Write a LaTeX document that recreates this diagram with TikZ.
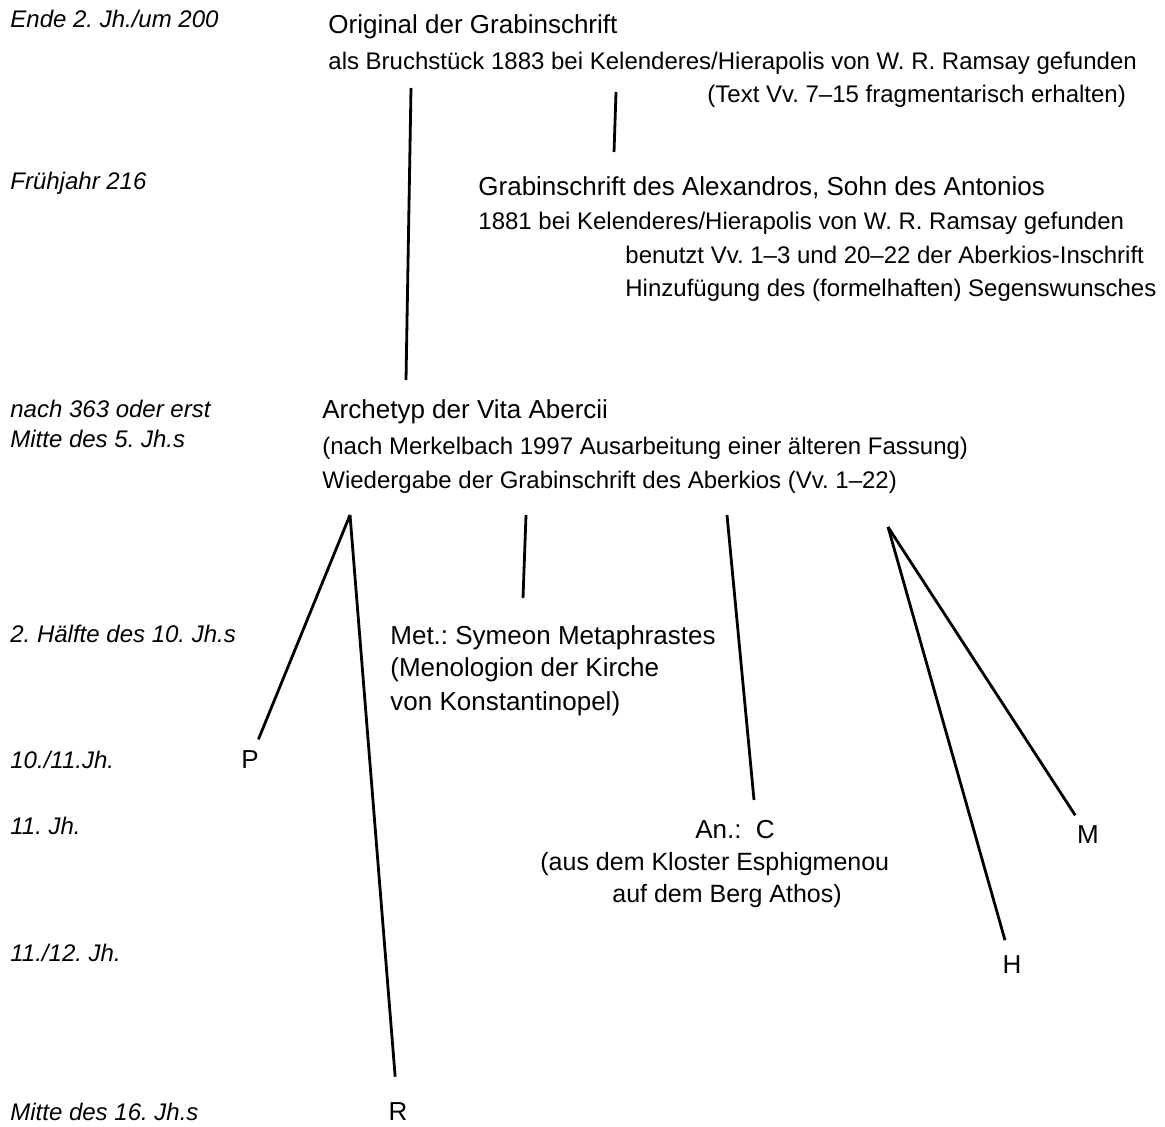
\documentclass[tikz,border=0pt]{standalone}
\usepackage{fontspec}
\setmainfont{Liberation Sans}
\frenchspacing
\begin{document}
\begin{tikzpicture}[x=0.5pt,y=-0.5pt,
    stem/.style={line width=1.4pt},
    txt/.style={anchor=base west,inner sep=0pt,font=\fontsize{12}{14}\selectfont},
    head/.style={txt,font=\fontsize{13}{15}\selectfont},
    date/.style={anchor=base west,inner sep=0pt,font=\fontsize{12}{14}\selectfont\itshape},
    sigle/.style={inner sep=1pt,font=\fontsize{13}{15}\selectfont}]
    \useasboundingbox (0,0) rectangle (1165,1127);

    % Dates on the left
    \node[date] (d1) at (10,28) {Ende 2. Jh./um 200};
    \node[date] (d2) at (10,190) {Frühjahr 216};
    \node[date] (d3) at (10,418) {nach 363 oder erst};
    \node[date] (d4) at (10,448) {Mitte des 5. Jh.s};
    \node[date] (d5) at (10,642) {2. Hälfte des 10. Jh.s};
    \node[date] (d6) at (10,768) {10./11.Jh.};
    \node[date] (d7) at (10,834) {11. Jh.};
    \node[date] (d8) at (10,961) {11./12. Jh.};
    \node[date] (d9) at (10,1120) {Mitte des 16. Jh.s};

    % Original
    \node[head] (orig) at (328,34) {Original der Grabinschrift};
    \node[txt] (orig2) at (328,70) {als Bruchstück 1883 bei Kelenderes/Hierapolis von W. R. Ramsay gefunden};
    \node[txt] (orig3) at (707,103) {(Text Vv. 7–15 fragmentarisch erhalten)};

    % Alexandros
    \node[head] (alex) at (478,196) {Grabinschrift des Alexandros, Sohn des Antonios};
    \node[txt] (alex2) at (478,230) {1881 bei Kelenderes/Hierapolis von W. R. Ramsay gefunden};
    \node[txt] (alex3) at (625,264) {benutzt Vv. 1–3 und 20–22 der Aberkios-Inschrift};
    \node[txt] (alex4) at (625,297) {Hinzufügung des (formelhaften) Segenswunsches};

    % Archetyp
    \node[head] (arch) at (322,419) {Archetyp der Vita Abercii};
    \node[txt] (arch2) at (322,455) {(nach Merkelbach 1997 Ausarbeitung einer älteren Fassung)};
    \node[txt] (arch3) at (322,488) {Wiedergabe der Grabinschrift des Aberkios (Vv. 1–22)};

    % Metaphrastes
    \node[head] (met) at (390,644) {Met.: Symeon Metaphrastes};
    \node[head] (met2) at (390,676) {(Menologion der Kirche};
    \node[head] (met3) at (390,710) {von Konstantinopel)};

    % Anonymus C
    \node[head,anchor=base] (an) at (735,838) {An.:\ \ C};
    \node[txt,font=\fontsize{12.5}{15}\selectfont] (an2) at (540,870) {(aus dem Kloster Esphigmenou};
    \node[txt,font=\fontsize{12.5}{15}\selectfont] (an3) at (612,902) {auf dem Berg Athos)};

    % Manuscripts
    \node[sigle] (P) at (250,760) {P};
    \node[sigle] (R) at (398,1112) {R};
    \node[sigle] (M) at (1088,835) {M};
    \node[sigle] (H) at (1012,965) {H};

    % Ends of the stems
    \coordinate (o1) at (411,88);
    \coordinate (o2) at (406,380);
    \coordinate (o3) at (616,92);
    \coordinate (o4) at (614,152);
    \coordinate (a1) at (350,515);
    \coordinate (a2) at (526,515);
    \coordinate (a3) at (523,598);
    \coordinate (a4) at (727,515);
    \coordinate (a5) at (754,800);
    \coordinate (a6) at (888,527);

    % Draw stems
    \draw[stem] (o1) -- (o2);
    \draw[stem] (o3) -- (o4);
    \draw[stem,shorten >=5pt] (a1) -- (P);
    \draw[stem,shorten >=12pt] (a1) -- (R);
    \draw[stem] (a2) -- (a3);
    \draw[stem] (a4) -- (a5);
    \draw[stem,shorten >=5pt] (a6) -- (M);
    \draw[stem,shorten >=7pt] (a6) -- (H);
\end{tikzpicture}
\end{document}
